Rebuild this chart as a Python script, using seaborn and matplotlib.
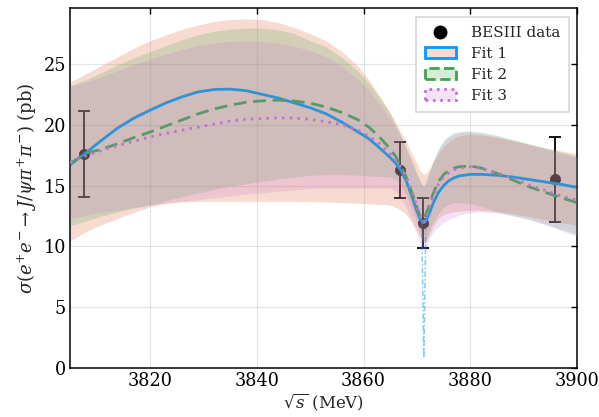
import numpy as np
import pandas as pd
import seaborn as sns
import matplotlib
matplotlib.use("Agg")
import matplotlib.pyplot as plt
from matplotlib.patches import Patch
from matplotlib.lines import Line2D
from matplotlib.colors import to_rgba

# ---- measurements ----
data_E = [3807.65, 3866.9, 3871.1, 3895.9]
data_sigma = [17.6, 16.3, 11.95, 15.5]
data_err = [3.5, 2.3, 2.05, 3.5]

# ---- fit curves on a common energy grid (MeV) ----
E = [3805, 3808, 3811, 3814, 3817, 3820, 3823, 3826, 3829, 3832, 3835, 3838,
     3841, 3844, 3847, 3850, 3853, 3856, 3859, 3861, 3863, 3865, 3866, 3867,
     3868, 3869, 3870, 3870.5, 3871, 3871.3, 3871.7, 3872, 3872.5, 3873, 3874,
     3875, 3876, 3877, 3878, 3880, 3882, 3885, 3888, 3891, 3894, 3897, 3900]

fit1 = [16.7, 17.7, 18.75, 19.75, 20.55, 21.2, 21.8, 22.3, 22.7, 22.9, 22.93, 22.8,
        22.5, 22.2, 21.8, 21.4, 20.9, 20.2, 19.4, 18.85, 18.1, 17.3, 16.85, 16.25,
        15.4, 14.2, 12.9, 12.35, 12.0, 11.95, 12.1, 12.4, 12.9, 13.5, 14.4,
        15.0, 15.4, 15.65, 15.8, 15.92, 15.92, 15.85, 15.7, 15.5, 15.3, 15.1, 14.85]
fit1_hi = [23.5, 24.2, 24.9, 25.6, 26.3, 26.9, 27.4, 27.85, 28.2, 28.5, 28.65, 28.7,
           28.65, 28.4, 28.0, 27.5, 26.9, 26.0, 24.8, 23.7, 22.4, 21.0, 20.2, 19.4,
           18.6, 17.7, 16.8, 16.3, 16.0, 15.9, 16.0, 16.2, 16.5, 16.9, 17.6,
           18.2, 18.6, 18.9, 19.1, 19.2, 19.15, 18.95, 18.7, 18.4, 18.1, 17.85, 17.6]
fit1_lo = [10.45, 11.2, 11.8, 12.3, 12.8, 13.25, 13.55, 13.65, 13.7, 13.7, 13.7, 13.7,
           13.7, 13.7, 13.7, 13.68, 13.65, 13.6, 13.55, 13.5, 13.45, 13.4, 13.2, 13.0,
           12.6, 12.0, 11.3, 10.9, 10.5, 10.35, 10.4, 10.65, 11.1, 11.6, 12.3,
           12.6, 12.75, 12.85, 12.9, 12.95, 12.95, 12.85, 12.7, 12.45, 12.2, 11.95, 11.75]

fit2 = [16.8, 17.65, 18.0, 18.45, 18.95, 19.4, 19.9, 20.4, 20.9, 21.3, 21.6, 21.85,
        21.97, 22.02, 21.95, 21.78, 21.45, 21.0, 20.4, 19.8, 19.0, 18.0, 17.4, 16.6,
        15.7, 14.5, 13.2, 12.6, 12.2, 12.3, 12.7, 13.0, 13.6, 14.3, 15.3,
        15.9, 16.25, 16.45, 16.55, 16.6, 16.45, 16.0, 15.45, 14.9, 14.45, 14.0, 13.6]
fit2_hi = [23.2, 23.7, 24.3, 24.95, 25.5, 26.0, 26.5, 27.0, 27.4, 27.7, 27.85, 27.95,
           27.95, 27.8, 27.5, 26.9, 26.4, 25.5, 24.4, 23.4, 22.2, 20.9, 20.0, 19.1,
           18.1, 17.1, 16.0, 15.5, 15.1, 15.0, 15.3, 15.7, 16.3, 17.0, 18.0,
           18.7, 19.1, 19.35, 19.45, 19.5, 19.4, 19.15, 18.8, 18.45, 18.1, 17.75, 17.4]
fit2_lo = [11.7, 12.1, 12.5, 12.85, 13.15, 13.4, 13.75, 14.1, 14.4, 14.7, 14.95, 15.15,
           15.35, 15.55, 15.7, 15.85, 15.9, 15.9, 15.85, 15.8, 15.75, 15.7, 15.5, 15.0,
           14.2, 13.2, 12.0, 11.3, 10.6, 10.3, 10.5, 10.9, 11.5, 12.0, 12.7,
           13.2, 13.45, 13.6, 13.6, 13.5, 13.3, 12.85, 12.55, 12.25, 11.85, 11.4, 11.0]

fit3 = [16.9, 17.45, 17.9, 18.3, 18.65, 19.0, 19.3, 19.55, 19.8, 20.05, 20.3, 20.45,
        20.52, 20.56, 20.55, 20.45, 20.25, 20.0, 19.55, 19.05, 18.45, 17.6, 17.1, 16.5,
        15.7, 14.6, 13.3, 12.6, 12.1, 12.0, 12.3, 12.7, 13.4, 14.1, 15.1,
        15.7, 16.05, 16.3, 16.45, 16.55, 16.4, 16.05, 15.6, 15.05, 14.6, 14.15, 13.8]
fit3_hi = [23.15, 23.5, 23.95, 24.45, 24.95, 25.4, 25.8, 26.2, 26.5, 26.7, 26.85, 26.9,
           26.85, 26.7, 26.45, 26.1, 25.6, 24.8, 23.7, 22.8, 21.7, 20.5, 19.8, 19.0,
           18.0, 17.0, 15.9, 15.4, 15.0, 14.9, 15.2, 15.6, 16.2, 16.9, 17.9,
           18.6, 19.0, 19.25, 19.35, 19.4, 19.3, 19.05, 18.7, 18.35, 18.0, 17.65, 17.3]
fit3_lo = [12.3, 12.55, 12.8, 13.0, 13.2, 13.4, 13.55, 13.7, 13.85, 14.0, 14.15, 14.3,
           14.4, 14.55, 14.65, 14.75, 14.8, 14.8, 14.8, 14.8, 14.8, 14.8, 14.5, 14.0,
           13.2, 12.2, 11.0, 10.4, 9.85, 9.75, 9.9, 10.3, 10.8, 11.1, 11.6,
           11.95, 12.2, 12.4, 12.6, 12.75, 12.85, 12.75, 12.5, 12.2, 11.8, 11.3, 10.85]

# narrow threshold cusp of Fit 1 evaluated on a fine grid
cusp_E = [3870.9, 3871.3, 3871.7]
cusp_sigma = [12.0, 0.8, 12.2]

labels = ["Fit 1", "Fit 2", "Fit 3"]

# ---- style ----
sns.set_style("white")
plt.rcParams["font.family"] = ["DejaVu Serif"]
plt.rcParams["mathtext.fontset"] = "dejavuserif"

line_colors = ["#009AFA", "#3EA44E", "#C371D2"]
band_colors = ["#E36F47", "#3EA44E", "#C371D2"]
band_alpha = [0.25, 0.2, 0.2]
styles = ["-", (0, (4.6, 2.4)), (0, (0.9, 1.9))]

fig = plt.figure(figsize=(5.99, 4.17), dpi=100)
ax = fig.add_axes([70 / 599, 1 - 368 / 417, 507 / 599, 360 / 417])

# measurements go underneath the bands
ax.errorbar(data_E, data_sigma, yerr=data_err, fmt="none", ecolor="black",
            elinewidth=1.3, capsize=4, capthick=1.3, zorder=1)
sns.scatterplot(x=data_E, y=data_sigma, ax=ax, color="black", s=55,
                edgecolor="black", linewidth=0.5, zorder=1.5, legend=False)

fits = [(fit1, fit1_lo, fit1_hi), (fit2, fit2_lo, fit2_hi), (fit3, fit3_lo, fit3_hi)]
z = 2
for i, (central, lo, hi) in enumerate(fits):
    ax.fill_between(E, lo, hi, color=band_colors[i], alpha=band_alpha[i],
                    linewidth=0, zorder=z)
    df = pd.DataFrame({"E": E, "sigma": central})
    sns.lineplot(data=df, x="E", y="sigma", ax=ax, color=line_colors[i],
                 linestyle=styles[i], linewidth=2.0, zorder=z + 0.5,
                 errorbar=None, legend=False)
    if i == 0:
        sns.lineplot(x=cusp_E, y=cusp_sigma, ax=ax, color=line_colors[0],
                     alpha=0.5, linestyle=(0, (3.5, 1.5, 1, 1.5)), linewidth=1.1,
                     zorder=z + 0.6, errorbar=None, legend=False, sort=False)
    z += 1

ax.set_xlim(3805, 3900)
ax.set_ylim(0, 29.6)
ax.set_xticks([3820, 3840, 3860, 3880, 3900])
ax.set_yticks([0, 5, 10, 15, 20, 25])
ax.grid(True, color="#000000", alpha=0.1, linewidth=0.9)
ax.set_axisbelow(True)
for s in ax.spines.values():
    s.set_visible(True)
    s.set_color("black")
    s.set_linewidth(1.1)
ax.tick_params(direction="in", length=4, width=1.0, top=True, right=True,
               labelsize=12.7, colors="black", pad=3)

ax.set_xlabel(r"$\sqrt{s}$ (MeV)", fontsize=12, labelpad=1)
ax.set_ylabel(r"$\sigma(e^{+}e^{-}\to J/\psi\pi^{+}\pi^{-})$ (pb)", fontsize=13,
              labelpad=3)

handles = [Line2D([], [], linestyle="none", marker="o", markersize=9,
                  markerfacecolor="black", markeredgecolor="black")]
for i in range(3):
    handles.append(Patch(facecolor=to_rgba(band_colors[i], band_alpha[i]),
                         edgecolor=line_colors[i], linewidth=2.0,
                         linestyle=["-", "--", ":"][i]))
leg = ax.legend(handles, ["BESIII data"] + labels, loc="upper right",
                fontsize=11, frameon=True, fancybox=False, framealpha=1,
                edgecolor="#d8d8d8", borderpad=0.6, labelspacing=0.45,
                handlelength=2.0, handletextpad=1.0,
                bbox_to_anchor=(1.0, 0.996))
leg.get_frame().set_linewidth(1.2)

fig.savefig("out.png", dpi=100)
